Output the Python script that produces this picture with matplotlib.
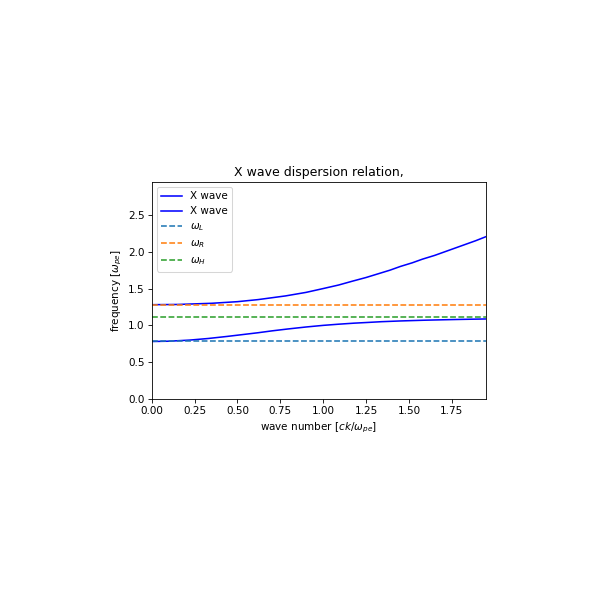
import matplotlib

matplotlib.use("Agg")
import matplotlib.pyplot as plt

# upper X-wave branch: wave number [ck/w_pe] vs frequency [w_pe]
k_upper = [0.0, 0.15, 0.35, 0.50, 0.62, 0.78, 0.90, 1.00, 1.09, 1.17, 1.25,
           1.32, 1.39, 1.45, 1.52, 1.58, 1.65, 1.71, 1.77, 1.83, 1.89, 1.95]
w_upper = [1.281, 1.284, 1.300, 1.322, 1.350, 1.400, 1.448, 1.500, 1.548,
           1.600, 1.650, 1.700, 1.750, 1.800, 1.850, 1.900, 1.950, 2.000,
           2.050, 2.100, 2.150, 2.205]

# lower X-wave branch
k_lower = [0.0, 0.10, 0.22, 0.33, 0.44, 0.53, 0.62, 0.70, 0.79, 0.90, 1.00,
           1.09, 1.18, 1.27, 1.34, 1.45, 1.59, 1.70, 1.78, 1.87, 1.95]
w_lower = [0.781, 0.785, 0.800, 0.822, 0.850, 0.875, 0.900, 0.925, 0.950,
           0.978, 1.000, 1.016, 1.030, 1.041, 1.050, 1.060, 1.070, 1.076,
           1.080, 1.084, 1.087]

w_L = 0.781
w_R = 1.281
w_H = 1.118
k_max = 1.95

fig = plt.figure(figsize=(8, 8), dpi=75)
ax = fig.add_axes([0.253, 0.335, 0.557, 0.362])

ax.plot(k_upper, w_upper, color="blue", label="X wave")
ax.plot(k_lower, w_lower, color="blue", label="X wave")
ax.plot([0, k_max], [w_L, w_L], "--", color="C0", label=r"$\omega_L$")
ax.plot([0, k_max], [w_R, w_R], "--", color="C1", label=r"$\omega_R$")
ax.plot([0, k_max], [w_H, w_H], "--", color="C2", label=r"$\omega_H$")

ax.set_xlim(0, k_max)
ax.set_ylim(0, 2.95)
ax.set_xlabel(r"wave number [$ck/\omega_{pe}$]")
ax.set_ylabel(r"frequency [$\omega_{pe}$]")
ax.set_title("X wave dispersion relation,")
ax.legend(loc="upper left")

fig.savefig("out.png")
